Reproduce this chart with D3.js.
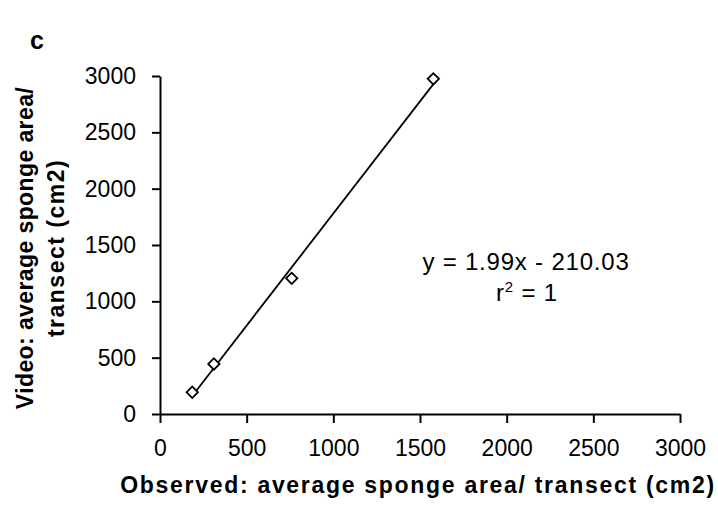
<!DOCTYPE html>
<html><head><meta charset="utf-8">
<script src="https://cdn.jsdelivr.net/npm/d3@7"></script>
<style>
body{margin:0;background:#fff;}
svg{display:block;font-family:"Liberation Sans",Arial,Helvetica,sans-serif;}
</style></head>
<body>
<svg id="chart" width="718" height="508"></svg>
<script>
const observed = [186, 311, 760, 1577];
const video = [193, 444, 1204, 2975];
const xTicks = [0, 500, 1000, 1500, 2000, 2500, 3000];
const yTicks = [0, 500, 1000, 1500, 2000, 2500, 3000];
const slope = 1.99, intercept = -210.03;
const eqLabel = "y = 1.99x - 210.03";

const svg = d3.select("#chart");
const m = {left:160, right:680, top:76, bottom:414};
const x = d3.scaleLinear().domain([0,3000]).range([m.left, m.right]);
const y = d3.scaleLinear().domain([0,3000]).range([m.bottom, m.top]);

const xAxis = svg.append("g").attr("transform",`translate(0,${m.bottom})`)
  .call(d3.axisBottom(x).tickValues(xTicks).tickSize(9).tickSizeOuter(0).tickPadding(17).tickFormat(d3.format("d")));
const yAxis = svg.append("g").attr("transform",`translate(${m.left},0)`)
  .call(d3.axisLeft(y).tickValues(yTicks).tickSize(8).tickSizeOuter(0).tickPadding(16).tickFormat(d3.format("d")));
[xAxis,yAxis].forEach(a=>{
  a.select(".domain").attr("stroke","#000").attr("stroke-width",2);
  a.selectAll(".tick line").attr("stroke","#000").attr("stroke-width",2);
  a.selectAll(".tick text").attr("fill","#000").style("font-size","23px").style("font-family","'Liberation Sans',Arial,sans-serif");
});

// trendline
const x0 = d3.min(observed), x1 = d3.max(observed);
svg.append("line")
  .attr("x1",x(x0)).attr("y1",y(slope*x0+intercept))
  .attr("x2",x(x1)).attr("y2",y(slope*x1+intercept))
  .attr("stroke","#000").attr("stroke-width",1.8);

// diamonds
const sym = d3.symbol().type(d3.symbolSquare).size(64);
svg.selectAll(".pt").data(observed).enter().append("path")
  .attr("transform",(d,i)=>`translate(${x(d)},${y(video[i])}) rotate(45)`)
  .attr("d",sym).attr("fill","#fff").attr("stroke","#000").attr("stroke-width",1.8);

// equation
svg.append("text").attr("x",526).attr("y",270).attr("text-anchor","middle")
  .style("font-size","24px").style("letter-spacing","0.8px").text(eqLabel);
const r2 = svg.append("text").attr("x",527).attr("y",301).attr("text-anchor","middle").style("font-size","24px").style("letter-spacing","0.8px");
r2.append("tspan").text("r");
r2.append("tspan").attr("dy",-9).style("font-size","15px").text("2");
r2.append("tspan").attr("dy",9).text(" = 1");

// panel label
svg.append("text").attr("x",30).attr("y",49).style("font-size","25px").style("font-weight","bold").text("c");

// axis titles
svg.append("text").attr("x",418).attr("y",493).attr("text-anchor","middle")
  .style("font-size","23px").style("font-weight","bold").style("letter-spacing","1.7px")
  .text("Observed: average sponge area/ transect (cm2)");
const yt = svg.append("text").attr("transform","translate(0,248) rotate(-90)").attr("text-anchor","middle")
  .style("font-size","23px").style("font-weight","bold");
yt.append("tspan").attr("x",0).attr("y",33).style("letter-spacing","0.4px").text("Video: average sponge area/");
yt.append("tspan").attr("x",0).attr("y",64).style("letter-spacing","1.5px").text("transect (cm2)");
</script>
</body></html>
